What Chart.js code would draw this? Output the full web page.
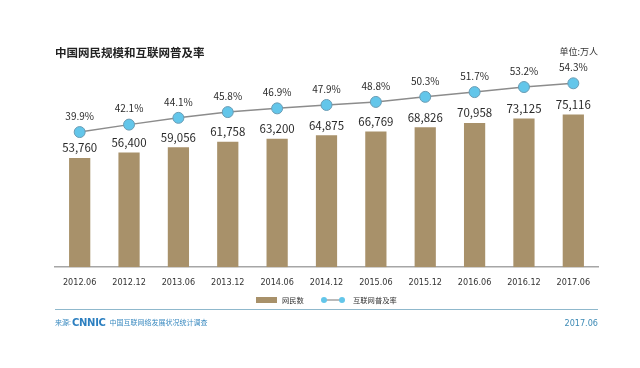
<!DOCTYPE html>
<html>
<head>
<meta charset="utf-8">
<script src="https://cdn.jsdelivr.net/npm/chart.js@4/dist/chart.umd.min.js"></script>
<style>
  html, body { margin: 0; padding: 0; background: #fff; }
  #wrap { position: relative; width: 640px; height: 368px; overflow: hidden; }
  #chart { position: absolute; left: 0; top: 0; }
  .txt { position: absolute; white-space: nowrap; line-height: 1; }
  #title { left: 55px; top: 44px; font: 700 11.5px "Noto Sans CJK SC", sans-serif; color: #222; }
  #unit { right: 42px; top: 45px; font: 9px "Noto Sans CJK SC", sans-serif; color: #333; }
  #rule { position: absolute; left: 55px; top: 309px; width: 543px; height: 0; border-top: 1.5px solid #8fb8cc; }
  #source { left: 55px; top: 317px; font: 7px "Noto Sans CJK SC", sans-serif; color: #3a8ac0; }
  #source b { font: 700 10px "DejaVu Sans", sans-serif; color: #2c7fc0; letter-spacing: -0.3px; margin: 0 4px 0 1px; vertical-align: -1px; }
  #date { right: 42px; top: 318px; font: 9px "DejaVu Sans Condensed", "Liberation Sans", sans-serif; font-stretch: condensed; color: #3d8ab5; }
</style>
</head>
<body>
<div id="wrap">
  <canvas id="chart" width="640" height="368"></canvas>
  <div class="txt" id="title">中国网民规模和互联网普及率</div>
  <div class="txt" id="unit">单位:万人</div>
  <div id="rule"></div>
  <div class="txt" id="source">来源:<b>CNNIC</b>中国互联网络发展状况统计调查</div>
  <div class="txt" id="date">2017.06</div>
</div>
<script>
  // 기간, 네티즌 수(만 명), 인터넷 보급률(%)
  const categories = ['2012.06', '2012.12', '2013.06', '2013.12', '2014.06', '2014.12',
                      '2015.06', '2015.12', '2016.06', '2016.12', '2017.06'];
  const netizens = [53760, 56400, 59056, 61758, 63200, 64875, 66769, 68826, 70958, 73125, 75116];
  const penetration = [39.9, 42.1, 44.1, 45.8, 46.9, 47.9, 48.8, 50.3, 51.7, 53.2, 54.3];
  const seriesNames = ['网民数', '互联网普及率'];

  const barColor = '#a8916a';
  const dotColor = '#63c6ea';

  // 데이터 라벨 + 범례 직접 그리기
  const labelPlugin = {
    id: 'labelPlugin',
    afterDatasetsDraw(chart) {
      const ctx = chart.ctx;
      ctx.save();
      ctx.textAlign = 'center';
      ctx.textBaseline = 'middle';
      ctx.fillStyle = '#2b2b2b';

      const barMeta = chart.getDatasetMeta(0);
      ctx.font = '11.5px "Noto Sans CJK SC", sans-serif';
      barMeta.data.forEach((el, i) => {
        ctx.fillText(netizens[i].toLocaleString('en-US'), el.x, el.y - 10);
      });

      const lineMeta = chart.getDatasetMeta(1);
      ctx.font = '10px "Noto Sans CJK SC", sans-serif';
      lineMeta.data.forEach((el, i) => {
        ctx.fillText(penetration[i].toFixed(1) + '%', el.x, el.y - 16);
      });

      // 범례
      const ly = 300;
      ctx.fillStyle = barColor;
      ctx.fillRect(256, ly - 3, 21, 6);
      ctx.fillStyle = '#333';
      ctx.textAlign = 'left';
      ctx.font = '7.3px "Noto Sans CJK SC", sans-serif';
      ctx.fillText(seriesNames[0], 282, ly);

      ctx.strokeStyle = '#8c8c8c';
      ctx.lineWidth = 1.2;
      ctx.beginPath();
      ctx.moveTo(324, ly);
      ctx.lineTo(342, ly);
      ctx.stroke();
      [324, 342].forEach(x => {
        ctx.beginPath();
        ctx.arc(x, ly, 3, 0, Math.PI * 2);
        ctx.fillStyle = dotColor;
        ctx.fill();
      });
      ctx.fillStyle = '#333';
      ctx.fillText(seriesNames[1], 353, ly);
      ctx.restore();
    }
  };

  new Chart(document.getElementById('chart'), {
    data: {
      labels: categories,
      datasets: [
        {
          type: 'bar',
          label: seriesNames[0],
          data: netizens,
          yAxisID: 'y',
          backgroundColor: barColor,
          barPercentage: 0.43,
          categoryPercentage: 1,
          order: 2
        },
        {
          type: 'line',
          label: seriesNames[1],
          data: penetration,
          yAxisID: 'y2',
          borderColor: '#8c8c8c',
          borderWidth: 1.5,
          pointRadius: 5.5,
          pointBackgroundColor: dotColor,
          pointBorderColor: '#6a9cb4',
          pointBorderWidth: 1,
          tension: 0,
          order: 1
        }
      ]
    },
    options: {
      responsive: false,
      animation: false,
      layout: { padding: { left: 55, right: 42, top: 64, bottom: 78 } },
      plugins: {
        legend: { display: false },
        tooltip: { enabled: false }
      },
      scales: {
        x: {
          grid: { display: false },
          border: { display: true, color: '#a6a6a6', width: 1.5 },
          ticks: {
            color: '#333',
            padding: 2,
            maxRotation: 0,
            autoSkip: false,
            font: { family: '"DejaVu Sans Condensed", "Liberation Sans", sans-serif', size: 9 }
          }
        },
        y: { display: false, min: 0, max: 100000 },
        y2: { display: false, min: 0, max: 60 }
      }
    },
    plugins: [labelPlugin]
  });
</script>
</body>
</html>
